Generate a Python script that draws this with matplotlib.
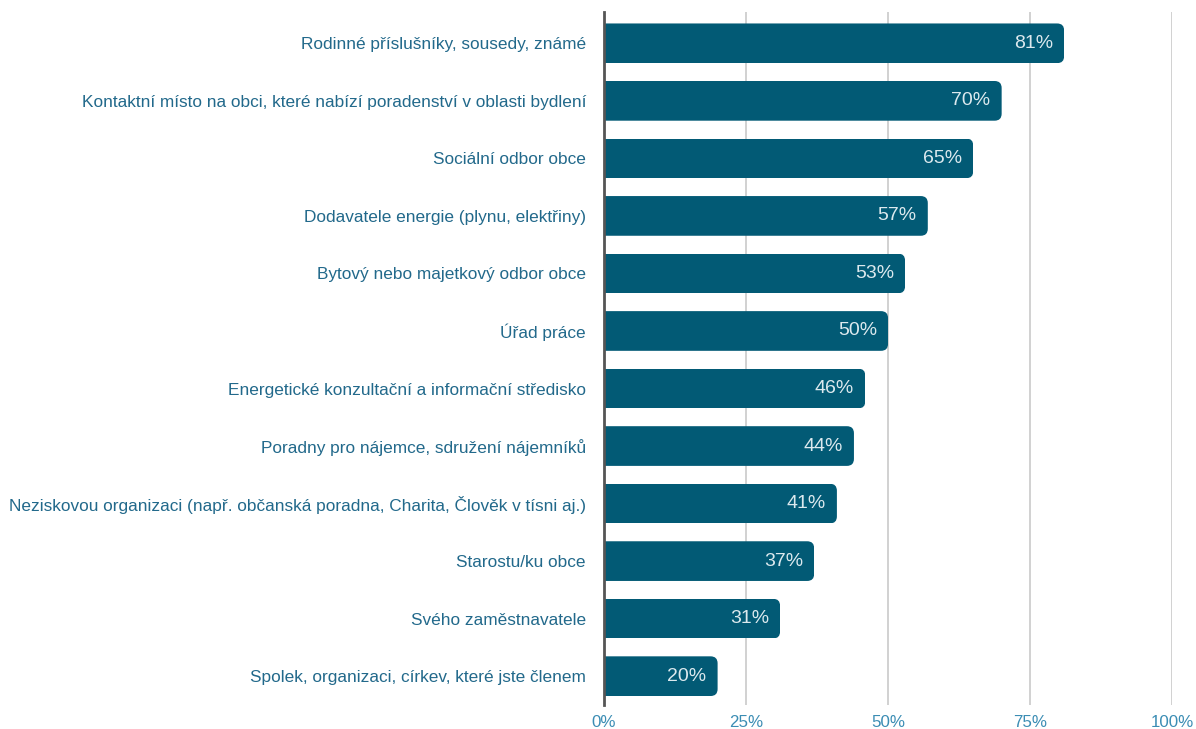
import matplotlib.pyplot as plt
from matplotlib.patches import FancyBboxPatch
from matplotlib.ticker import FixedLocator

plt.rcParams['font.family'] = ['Liberation Sans', 'DejaVu Sans']

labels = [
    "Rodinné příslušníky, sousedy, známé",
    "Kontaktní místo na obci, které nabízí poradenství v oblasti bydlení",
    "Sociální odbor obce",
    "Dodavatele energie (plynu, elektřiny)",
    "Bytový nebo majetkový odbor obce",
    "Úřad práce",
    "Energetické konzultační a informační středisko",
    "Poradny pro nájemce, sdružení nájemníků",
    "Neziskovou organizaci (např. občanská poradna, Charita, Člověk v tísni aj.)",
    "Starostu/ku obce",
    "Svého zaměstnavatele",
    "Spolek, organizaci, církev, které jste členem",
]
values = [81, 70, 65, 57, 53, 50, 46, 44, 41, 37, 31, 20]
ticks = [0, 25, 50, 75, 100]

bar_color = "#025a75"
label_color = "#22698b"
tick_color = "#3b8db4"

fig = plt.figure(figsize=(11.96, 7.29), dpi=100)
ax = fig.add_axes([0.505, 0.033, 0.475, 0.951])

ypos = list(range(len(values)))
h = 0.69
bars = ax.barh(ypos, values, height=h, color=bar_color, zorder=3)

# round the right end of each bar by clipping it with a rounded box
px_x = 0.475 * 1196 / 100.0
px_y = 0.951 * 729 / 12.05
r = 7 / px_x
for bar, v in zip(bars, values):
    clip = FancyBboxPatch((bar.get_x() - 10, bar.get_y()), bar.get_width() + 10,
                          bar.get_height(),
                          boxstyle=f"round,pad=0,rounding_size={r}",
                          mutation_aspect=px_x / px_y,
                          transform=ax.transData)
    bar.set_clip_path(clip)
    ax.annotate(f"{v}%", (v, bar.get_y() + h / 2), xytext=(-8, 0),
                textcoords="offset points", ha="right", va="center",
                color="#dce9ee", fontsize=14, zorder=4)

ax.set_xlim(0, 100)
ax.set_ylim(11.5, -0.55)
ax.xaxis.set_major_locator(FixedLocator(ticks))
ax.set_xticklabels([f"{t}%" for t in ticks])
ax.set_yticks(ypos)
ax.set_yticklabels(labels)
ax.tick_params(axis="y", length=0, pad=13, labelsize=12.4, labelcolor=label_color)
ax.tick_params(axis="x", length=0, pad=7, labelsize=12.2, labelcolor=tick_color)
ax.grid(axis="x", color="#c9c9c9", linewidth=1.2, zorder=0)
for s in ["top", "right", "bottom"]:
    ax.spines[s].set_visible(False)
ax.spines["left"].set_color("#555555")
ax.spines["left"].set_linewidth(2)
ax.spines["left"].set_zorder(5)

fig.savefig("out.png", dpi=100)
